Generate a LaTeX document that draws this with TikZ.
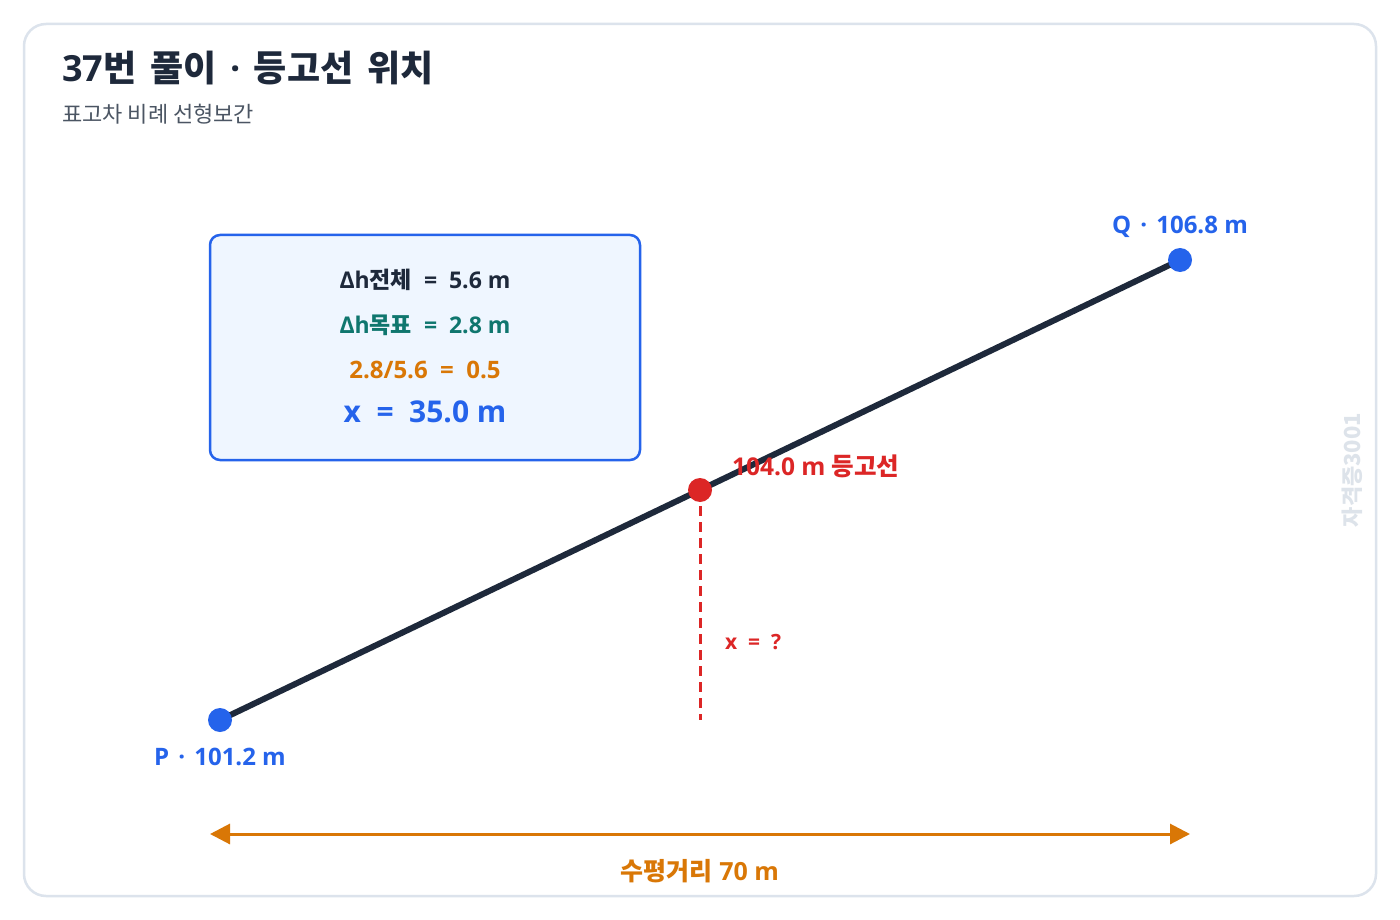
\documentclass[tikz,border=0pt]{standalone}
\usepackage{fontspec}
\setmainfont{Open Sans}
\newfontfamily\cjk{Noto Sans CJK KR}
\usetikzlibrary{arrows.meta}
\definecolor{frame}{HTML}{DCE3EC}
\definecolor{ink}{HTML}{1E293B}
\definecolor{sub}{HTML}{4B5563}
\definecolor{bluec}{HTML}{2563EB}
\definecolor{boxfill}{HTML}{EFF6FF}
\definecolor{tealc}{HTML}{0F766E}
\definecolor{orangec}{HTML}{D97706}
\definecolor{redc}{HTML}{DC2626}
\definecolor{wm}{HTML}{DDE3EA}
\newcommand{\fs}[1]{\fontsize{#1}{#1}\selectfont}
\newcommand{\K}[1]{{\cjk #1}}
\newcommand{\wsp}{\hspace{0.38em}}
\begin{document}
\begin{tikzpicture}[x=1pt,y=-1pt,
  lbl/.style={inner sep=0pt, font=\bfseries\fs{23}},
  dot/.style={circle, inner sep=0pt, minimum size=24pt},
]
\useasboundingbox (0,0) rectangle (1400,920);
\fill[white] (0,0) rectangle (1400,920);
\draw[frame, line width=2.5pt, rounded corners=22pt] (24,24) rectangle (1376,896);
% title
\node[anchor=base west, inner sep=0pt, text=ink, font=\bfseries\fs{36}] (title) at (62,82) {37\K{번}\wsp\K{풀이}\wsp·\wsp\K{등고선}\wsp\K{위치}};
\node[anchor=base west, inner sep=0pt, text=sub, font=\cjk\fs{22}] (subtitle) at (62,123) {표고차 비례 선형보간};
% info box
\node[draw=bluec, fill=boxfill, line width=2.5pt, rounded corners=10pt, minimum width=430pt, minimum height=225pt, inner sep=0pt] (box) at (425,347.5) {};
\node[lbl, text=ink] (l1) at (425,280) {Δh\K{전체} \ = \ 5.6 m};
\node[lbl, text=tealc] (l2) at (425,325) {Δh\K{목표} \ = \ 2.8 m};
\node[lbl, text=orangec, font=\bfseries\fs{24}] (l3) at (425,370) {2.8/5.6 \ = \ 0.5};
\node[lbl, text=bluec, font=\bfseries\fs{30}] (l4) at (425,412) {x \ = \ 35.0 m};
% line
\coordinate (P) at (220,720);
\coordinate (Q) at (1180,260);
\coordinate (C) at (700,490);
\coordinate (F) at (700,720);
\draw[ink, line width=6pt] (P) -- (Q);
\draw[redc, line width=3pt, dash pattern=on 10pt off 6pt] (C) -- (F);
\node[dot, fill=bluec] (Pd) at (P) {};
\node[dot, fill=bluec] (Qd) at (Q) {};
\node[dot, fill=redc] (Cd) at (C) {};
\node[lbl, text=bluec, font=\bfseries\fs{24}] (Ql) at (1180,227) {Q\wsp·\wsp106.8 m};
\node[lbl, text=bluec, font=\bfseries\fs{24}] (Pl) at (220,757) {P\wsp·\wsp101.2 m};
\node[lbl, text=redc, anchor=west, font=\bfseries\fs{24.5}] (Cl) at (732,466) {104.0 m \K{등고선}};
\node[lbl, text=redc, anchor=west, font=\bfseries\fs{21}] (xl) at (725,642) {x \ = \ ?};
% horizontal distance
\coordinate (A1) at (210,834);
\coordinate (A2) at (1190,834);
\draw[orangec, line width=3pt, {Triangle[length=20pt,width=20pt]}-{Triangle[length=20pt,width=20pt]}] (A1) -- (A2);
\node[lbl, text=orangec, font=\bfseries\fs{25}] (dl) at (700,871) {\K{수평거리} 70 m};
% watermark
\node[inner sep=0pt, text=wm, font=\bfseries\cjk\fs{22}, rotate=90] (wm) at (1352,470) {자격증3001};
\end{tikzpicture}
\end{document}
